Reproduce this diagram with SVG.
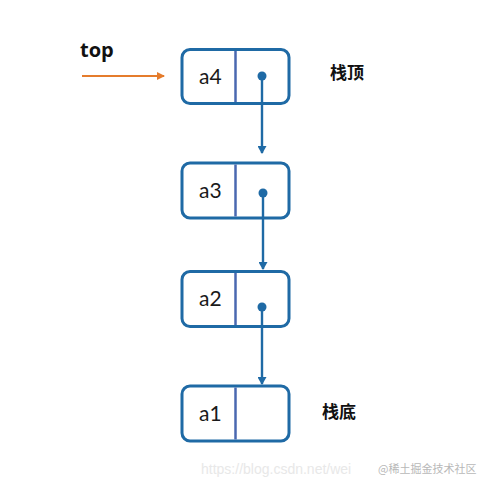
<svg xmlns="http://www.w3.org/2000/svg" width="481" height="488" viewBox="0 0 481 488">
<style>
.box{fill:#fff;stroke:#1f6aa5;stroke-width:3}
.div{stroke:#4a68b0;stroke-width:2.5}
.lbl{font-family:"Lato","Open Sans","Liberation Sans",sans-serif;font-size:21px;fill:#1a1a1a}
.cn{font-family:"Noto Sans CJK SC",sans-serif;font-size:17px;font-weight:bold;fill:#111}
.link{stroke:#1f6aa5;stroke-width:2.4;fill:none}
.dot{fill:#1f6aa5}
.wm{font-family:"Liberation Sans",sans-serif;font-size:14px;fill:#e8e8e8}
</style>
<defs>
<marker id="ab" markerWidth="8" markerHeight="9" refX="7" refY="4.5" orient="auto" markerUnits="userSpaceOnUse">
<path d="M0,0 L8,4.5 L0,9 z" fill="#1f6aa5"/>
</marker>
<marker id="ao" markerWidth="8" markerHeight="8" refX="7" refY="4" orient="auto" markerUnits="userSpaceOnUse">
<path d="M0,0 L8,4 L0,8 z" fill="#e57c2c"/>
</marker>
</defs>
<rect width="481" height="488" fill="#fff"/>
<text x="80" y="57" font-family="Open Sans, Liberation Sans, sans-serif" font-size="20" font-weight="bold" fill="#111">top</text>
<g id="a4">
<rect class="box" x="182" y="49.5" width="107" height="54" rx="8"/>
<line class="div" x1="235.5" y1="51" x2="235.5" y2="102"/>
<text class="lbl" x="199" y="84">a4</text>
<circle class="dot" cx="262" cy="76" r="4.5"/>
</g>
<g id="a3">
<rect class="box" x="182" y="163" width="107" height="55" rx="8"/>
<line class="div" x1="235.5" y1="164.5" x2="235.5" y2="216.5"/>
<text class="lbl" x="199" y="198">a3</text>
<circle class="dot" cx="263" cy="193" r="4.5"/>
</g>
<g id="a2">
<rect class="box" x="182" y="271.5" width="107" height="55" rx="8"/>
<line class="div" x1="235.5" y1="273" x2="235.5" y2="325"/>
<text class="lbl" x="199" y="306">a2</text>
<circle class="dot" cx="262" cy="307" r="4.5"/>
</g>
<g id="a1">
<rect class="box" x="182" y="386" width="107" height="55" rx="8"/>
<line class="div" x1="235.5" y1="387.5" x2="235.5" y2="439.5"/>
<text class="lbl" x="199" y="421">a1</text>
</g>
<g id="labels">
<text class="cn" x="330" y="79">栈顶</text>
<text class="cn" x="322" y="418">栈底</text>
</g>
<g id="connectors">
<line x1="82" y1="76" x2="164" y2="76" stroke="#e57c2c" stroke-width="2.2" marker-end="url(#ao)"/>
<line class="link" x1="262" y1="76" x2="262" y2="153" marker-end="url(#ab)"/>
<line class="link" x1="263" y1="193" x2="263" y2="269" marker-end="url(#ab)"/>
<line class="link" x1="262" y1="307" x2="262" y2="384" marker-end="url(#ab)"/>
</g>
<text class="wm" x="201" y="474">https://blog.csdn.net/wei</text>
<text x="378" y="473" font-family="Noto Sans CJK SC, sans-serif" font-size="11" fill="#b8b8b8">@稀土掘金技术社区</text>
</svg>
